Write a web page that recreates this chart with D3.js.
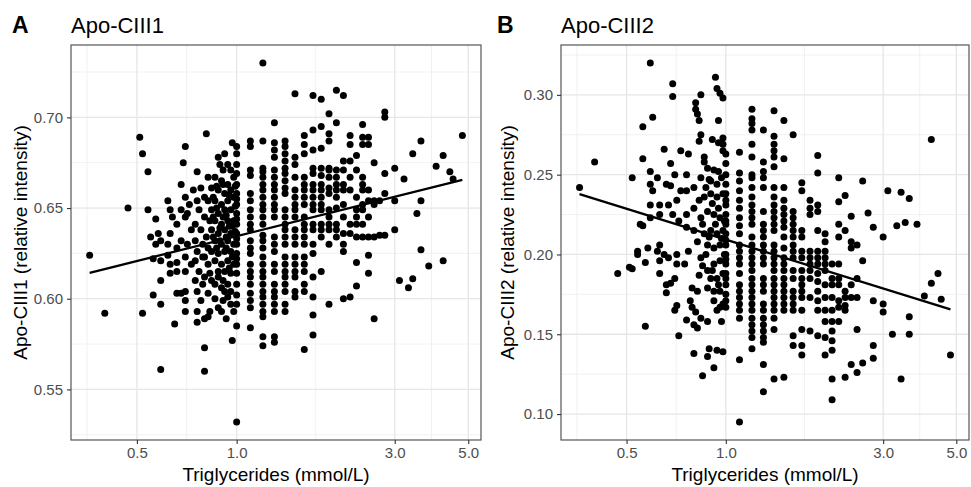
<!DOCTYPE html>
<html>
<head>
<meta charset="utf-8">
<script src="https://cdn.jsdelivr.net/npm/d3@7"></script>
<style>
  body { margin: 0; background: #fff; }
  svg { display: block; font-family: "Liberation Sans", Arial, sans-serif; }
</style>
</head>
<body>
<div id="chart"></div>
<script>
// x tick labels (triglycerides, log scale) shared by both panels
const xTicks = [0.5, 1.0, 3.0, 5.0];
const yTicksA = [0.55, 0.60, 0.65, 0.70];
const yTicksB = [0.10, 0.15, 0.20, 0.25, 0.30];

// fitted lines: y = intercept + slope * log10(TG)
const fitA = [0.6345, 0.0455];
const fitB = [0.2093, -0.0642];

// Apo-CIII1: triglyceride columns (1 decimal above 1.0) with their intensities
const colsA = [
  [1.0, [0.684, 0.680, 0.674, 0.669, 0.663, 0.658, 0.655, 0.652, 0.647, 0.644, 0.641, 0.636, 0.633, 0.630, 0.625, 0.622, 0.619, 0.614, 0.608, 0.602, 0.597, 0.585, 0.532]],
  [1.1, [0.687, 0.684, 0.671, 0.668, 0.658, 0.654, 0.649, 0.645, 0.641, 0.638, 0.632, 0.628, 0.625, 0.619, 0.615, 0.612, 0.608, 0.603, 0.599, 0.595, 0.584]],
  [1.2, [0.730, 0.687, 0.672, 0.670, 0.667, 0.663, 0.660, 0.656, 0.652, 0.649, 0.645, 0.641, 0.635, 0.632, 0.628, 0.623, 0.619, 0.615, 0.612, 0.608, 0.604, 0.601, 0.597, 0.593, 0.590, 0.579, 0.574]],
  [1.3, [0.697, 0.686, 0.682, 0.678, 0.671, 0.667, 0.663, 0.660, 0.656, 0.652, 0.649, 0.645, 0.634, 0.630, 0.626, 0.619, 0.615, 0.608, 0.604, 0.601, 0.597, 0.593, 0.579, 0.576]],
  [1.4, [0.687, 0.684, 0.680, 0.676, 0.672, 0.669, 0.665, 0.661, 0.658, 0.649, 0.645, 0.641, 0.638, 0.634, 0.630, 0.623, 0.619, 0.615, 0.612, 0.608, 0.604, 0.597, 0.593]],
  [1.5, [0.713, 0.678, 0.674, 0.667, 0.660, 0.656, 0.652, 0.649, 0.645, 0.638, 0.634, 0.630, 0.623, 0.619, 0.615, 0.612, 0.604, 0.601]],
  [1.6, [0.690, 0.685, 0.680, 0.667, 0.663, 0.660, 0.656, 0.652, 0.645, 0.641, 0.638, 0.634, 0.630, 0.623, 0.619, 0.615, 0.608, 0.604, 0.572]],
  [1.7, [0.712, 0.693, 0.682, 0.672, 0.669, 0.663, 0.660, 0.656, 0.652, 0.649, 0.641, 0.638, 0.630, 0.625, 0.612, 0.601, 0.591, 0.580]],
  [1.8, [0.710, 0.695, 0.683, 0.672, 0.668, 0.663, 0.660, 0.656, 0.652, 0.649, 0.641, 0.638, 0.634, 0.615]],
  [1.9, [0.702, 0.691, 0.687, 0.672, 0.671, 0.667, 0.661, 0.658, 0.649, 0.645, 0.641, 0.638, 0.630, 0.597]],
  [2.0, [0.715, 0.697, 0.671, 0.667, 0.663, 0.660, 0.656, 0.650, 0.641, 0.638, 0.634]],
  [2.1, [0.712, 0.676, 0.671, 0.663, 0.660, 0.652, 0.645, 0.636, 0.630, 0.626, 0.600]],
  [2.2, [0.690, 0.685, 0.676, 0.667, 0.660, 0.641, 0.636, 0.601]],
  [2.3, [0.679, 0.671, 0.656, 0.649, 0.645, 0.641, 0.634, 0.620, 0.607]],
  [2.4, [0.696, 0.689, 0.685, 0.667, 0.663, 0.660, 0.652, 0.649, 0.641, 0.634]],
  [2.5, [0.689, 0.685, 0.660, 0.654, 0.645, 0.634, 0.624, 0.614]],
  [2.6, [0.675, 0.654, 0.652, 0.634, 0.589]],
  [2.7, [0.654, 0.635]],
  [2.8, [0.703, 0.700, 0.669, 0.658, 0.635]],
  [3.0, [0.672, 0.654, 0.638]],
  [3.1, [0.610]], [3.2, [0.666]], [3.3, [0.606]], [3.4, [0.680, 0.611]], [3.5, [0.647]],
  [3.6, [0.687, 0.654, 0.627]], [3.8, [0.618]], [4.0, [0.673]], [4.2, [0.679, 0.621]],
  [4.4, [0.670]], [4.5, [0.666]], [4.8, [0.690]]
];

// Apo-CIII1: individual points below 1.0 mmol/L
const lowA = [
  [0.51, 0.689], [0.52, 0.680], [0.54, 0.670], [0.47, 0.650], [0.54, 0.649], [0.57, 0.644], [0.36, 0.624], [0.40, 0.592],
  [0.52, 0.592], [0.56, 0.602], [0.59, 0.597], [0.59, 0.610], [0.59, 0.561], [0.65, 0.586], [0.70, 0.684], [0.69, 0.675],
  [0.81, 0.691], [0.76, 0.670], [0.68, 0.663], [0.55, 0.634], [0.58, 0.636], [0.57, 0.630], [0.59, 0.632], [0.62, 0.630],
  [0.56, 0.622], [0.59, 0.621], [0.62, 0.624], [0.63, 0.619], [0.66, 0.615], [0.62, 0.654], [0.63, 0.649], [0.64, 0.645],
  [0.66, 0.641], [0.68, 0.649], [0.71, 0.647], [0.70, 0.645], [0.63, 0.636], [0.68, 0.632], [0.66, 0.628], [0.71, 0.630],
  [0.70, 0.623], [0.66, 0.620], [0.70, 0.615], [0.63, 0.614], [0.73, 0.619], [0.70, 0.604], [0.68, 0.603], [0.66, 0.603],
  [0.70, 0.599], [0.70, 0.593], [0.76, 0.593], [0.76, 0.587], [0.80, 0.589], [0.82, 0.590], [0.83, 0.593], [0.88, 0.595],
  [0.93, 0.589], [0.86, 0.600], [0.82, 0.603], [0.76, 0.604], [0.78, 0.599], [0.79, 0.608], [0.75, 0.610], [0.80, 0.612],
  [0.78, 0.661], [0.80, 0.656], [0.82, 0.667], [0.76, 0.654], [0.77, 0.649], [0.75, 0.641], [0.73, 0.638], [0.75, 0.632],
  [0.78, 0.638], [0.80, 0.645], [0.79, 0.630], [0.76, 0.626], [0.80, 0.623], [0.75, 0.621], [0.82, 0.619], [0.77, 0.615],
  [0.83, 0.614], [0.84, 0.610], [0.86, 0.608], [0.88, 0.612], [0.90, 0.606], [0.92, 0.604], [0.94, 0.608], [0.96, 0.604],
  [0.94, 0.601], [0.91, 0.599], [0.96, 0.597], [0.98, 0.593], [0.90, 0.593], [0.88, 0.678], [0.92, 0.680], [0.89, 0.674],
  [0.91, 0.671], [0.94, 0.674], [0.96, 0.671], [0.86, 0.667], [0.90, 0.665], [0.94, 0.663], [0.98, 0.667], [0.84, 0.661],
  [0.88, 0.660], [0.92, 0.658], [0.96, 0.660], [0.86, 0.654], [0.90, 0.652], [0.94, 0.654], [0.98, 0.656], [0.84, 0.649],
  [0.88, 0.647], [0.92, 0.649], [0.96, 0.649], [0.86, 0.643], [0.90, 0.641], [0.94, 0.643], [0.98, 0.643], [0.84, 0.638],
  [0.88, 0.636], [0.92, 0.638], [0.96, 0.636], [0.86, 0.632], [0.90, 0.630], [0.94, 0.632], [0.98, 0.630], [0.84, 0.626],
  [0.88, 0.625], [0.92, 0.626], [0.96, 0.626], [0.86, 0.621], [0.90, 0.619], [0.94, 0.621], [0.98, 0.619], [0.88, 0.615],
  [0.92, 0.615], [0.96, 0.614], [0.85, 0.634], [0.93, 0.628], [0.97, 0.640], [0.87, 0.650], [0.91, 0.645], [0.95, 0.640],
  [0.89, 0.632], [0.82, 0.654], [0.83, 0.643], [0.81, 0.634], [0.82, 0.628], [0.79, 0.623], [0.97, 0.686], [0.97, 0.577],
  [0.80, 0.573], [0.80, 0.560], [0.70, 0.656], [0.72, 0.652], [0.74, 0.660], [0.87, 0.662], [0.91, 0.663], [0.95, 0.657],
  [0.99, 0.651], [0.85, 0.645], [0.89, 0.639], [0.93, 0.634], [0.97, 0.623], [0.99, 0.637], [0.95, 0.617], [0.91, 0.610],
  [0.87, 0.628], [0.93, 0.646], [0.99, 0.662], [0.85, 0.656]
];

// Apo-CIII2: triglyceride columns above 1.0 mmol/L
const colsB = [
  [1.0, [0.263, 0.257, 0.250, 0.244, 0.238, 0.234, 0.231, 0.225, 0.221, 0.219, 0.213, 0.209, 0.206, 0.200, 0.197, 0.194, 0.188, 0.185, 0.181, 0.175, 0.171, 0.167]],
  [1.1, [0.264, 0.251, 0.246, 0.240, 0.234, 0.229, 0.223, 0.218, 0.213, 0.206, 0.202, 0.198, 0.194, 0.188, 0.181, 0.177, 0.173, 0.169, 0.165, 0.160, 0.134, 0.095]],
  [1.2, [0.291, 0.285, 0.282, 0.278, 0.269, 0.261, 0.250, 0.248, 0.242, 0.236, 0.231, 0.227, 0.223, 0.219, 0.211, 0.206, 0.202, 0.198, 0.194, 0.190, 0.185, 0.181, 0.177, 0.173, 0.169, 0.165, 0.160, 0.156, 0.152, 0.148, 0.141]],
  [1.3, [0.278, 0.258, 0.252, 0.248, 0.242, 0.227, 0.219, 0.215, 0.211, 0.206, 0.202, 0.198, 0.194, 0.185, 0.181, 0.177, 0.169, 0.165, 0.160, 0.156, 0.152, 0.148, 0.145, 0.131, 0.114]],
  [1.4, [0.290, 0.274, 0.269, 0.265, 0.261, 0.255, 0.242, 0.236, 0.231, 0.227, 0.223, 0.219, 0.215, 0.206, 0.202, 0.198, 0.194, 0.190, 0.185, 0.181, 0.177, 0.173, 0.169, 0.165, 0.160, 0.153, 0.122]],
  [1.5, [0.284, 0.260, 0.242, 0.234, 0.229, 0.225, 0.221, 0.217, 0.211, 0.204, 0.198, 0.194, 0.190, 0.185, 0.181, 0.177, 0.173, 0.169, 0.165, 0.123]],
  [1.6, [0.275, 0.227, 0.223, 0.219, 0.215, 0.211, 0.206, 0.202, 0.198, 0.190, 0.185, 0.177, 0.173, 0.169, 0.165, 0.149, 0.143]],
  [1.7, [0.245, 0.240, 0.215, 0.211, 0.202, 0.198, 0.190, 0.185, 0.181, 0.177, 0.173, 0.165, 0.153, 0.143, 0.137]],
  [1.8, [0.234, 0.229, 0.225, 0.202, 0.198, 0.194, 0.190, 0.185, 0.173, 0.152]],
  [1.9, [0.262, 0.251, 0.231, 0.227, 0.215, 0.202, 0.198, 0.194, 0.188, 0.183, 0.177, 0.171, 0.165, 0.149]],
  [2.0, [0.213, 0.208, 0.202, 0.198, 0.194, 0.190, 0.181, 0.173, 0.165, 0.158, 0.148, 0.137]],
  [2.1, [0.194, 0.185, 0.181, 0.173, 0.165, 0.158, 0.152, 0.146, 0.140, 0.122, 0.109]],
  [2.2, [0.248, 0.233, 0.219, 0.211, 0.194, 0.185, 0.181, 0.171, 0.167, 0.158]],
  [2.3, [0.237, 0.215, 0.177, 0.173, 0.168, 0.165, 0.123]],
  [2.4, [0.224, 0.208, 0.204, 0.181, 0.173, 0.131]],
  [2.5, [0.206, 0.185, 0.173, 0.153, 0.126]],
  [2.6, [0.246, 0.196, 0.132]],
  [2.7, [0.226]],
  [2.8, [0.217, 0.171, 0.143, 0.135]],
  [3.0, [0.211, 0.169, 0.164]],
  [3.1, [0.240]], [3.2, [0.150]], [3.3, [0.218]], [3.4, [0.239, 0.122]], [3.5, [0.220]],
  [3.6, [0.235, 0.161, 0.150]], [3.8, [0.219]], [4.0, [0.174]], [4.2, [0.272, 0.182]],
  [4.4, [0.188]], [4.5, [0.172]], [4.8, [0.137]]
];

// Apo-CIII2: individual points below 1.0 mmol/L
const lowB = [
  [0.59, 0.320], [0.93, 0.311], [0.94, 0.304], [0.96, 0.301], [0.98, 0.298], [0.69, 0.307], [0.69, 0.299], [0.84, 0.300],
  [0.81, 0.295], [0.81, 0.291], [0.82, 0.288], [0.83, 0.284], [0.95, 0.284], [0.60, 0.286], [0.56, 0.280], [0.40, 0.258],
  [0.36, 0.242], [0.52, 0.248], [0.56, 0.260], [0.47, 0.188], [0.51, 0.192], [0.52, 0.191], [0.57, 0.155], [0.72, 0.149],
  [0.80, 0.138], [0.89, 0.141], [0.88, 0.136], [0.94, 0.140], [0.98, 0.139], [0.92, 0.129], [0.85, 0.124], [0.65, 0.266],
  [0.73, 0.265], [0.77, 0.263], [0.68, 0.257], [0.70, 0.250], [0.59, 0.252], [0.62, 0.248], [0.66, 0.244], [0.59, 0.244],
  [0.60, 0.240], [0.68, 0.243], [0.76, 0.250], [0.86, 0.258], [0.88, 0.254], [0.92, 0.253], [0.84, 0.248], [0.90, 0.246],
  [0.94, 0.244], [0.97, 0.248], [0.80, 0.242], [0.76, 0.240], [0.73, 0.240], [0.71, 0.234], [0.67, 0.231], [0.63, 0.231],
  [0.59, 0.231], [0.63, 0.225], [0.59, 0.223], [0.55, 0.219], [0.56, 0.218], [0.69, 0.225], [0.72, 0.221], [0.76, 0.225],
  [0.80, 0.229], [0.83, 0.234], [0.86, 0.236], [0.90, 0.238], [0.94, 0.236], [0.98, 0.238], [0.84, 0.223], [0.88, 0.227],
  [0.92, 0.225], [0.96, 0.223], [0.76, 0.217], [0.80, 0.215], [0.82, 0.208], [0.86, 0.213], [0.90, 0.215], [0.94, 0.213],
  [0.98, 0.215], [0.88, 0.206], [0.92, 0.204], [0.96, 0.206], [0.63, 0.206], [0.62, 0.202], [0.65, 0.200], [0.67, 0.198],
  [0.71, 0.200], [0.75, 0.194], [0.71, 0.194], [0.63, 0.196], [0.58, 0.204], [0.54, 0.202], [0.54, 0.200], [0.57, 0.195],
  [0.77, 0.202], [0.84, 0.198], [0.85, 0.193], [0.88, 0.190], [0.92, 0.194], [0.96, 0.196], [0.90, 0.185], [0.94, 0.185],
  [0.98, 0.188], [0.88, 0.179], [0.92, 0.177], [0.96, 0.177], [0.82, 0.177], [0.79, 0.179], [0.70, 0.185], [0.68, 0.182],
  [0.66, 0.181], [0.66, 0.176], [0.78, 0.171], [0.79, 0.167], [0.71, 0.168], [0.70, 0.165], [0.92, 0.171], [0.96, 0.167],
  [0.98, 0.169], [0.81, 0.164], [0.84, 0.160], [0.76, 0.159], [0.80, 0.156], [0.82, 0.154], [0.88, 0.158], [0.97, 0.158],
  [0.94, 0.165], [0.63, 0.188], [0.84, 0.275], [0.83, 0.271], [0.91, 0.272], [0.95, 0.270], [0.98, 0.273], [0.98, 0.269],
  [0.98, 0.265], [0.86, 0.261], [0.87, 0.242], [0.91, 0.232], [0.95, 0.229], [0.99, 0.221], [0.85, 0.219], [0.89, 0.211],
  [0.93, 0.219], [0.97, 0.210], [0.99, 0.200], [0.87, 0.200], [0.91, 0.190], [0.95, 0.181], [0.83, 0.187], [0.89, 0.247],
  [0.95, 0.252]
];

const W = 971, H = 487;
const svg = d3.select("#chart").append("svg")
  .attr("width", W)
  .attr("height", H);

function flatten(cols, low) {
  const pts = low.map(d => ({ tg: d[0], v: d[1] }));
  cols.forEach(c => c[1].forEach(v => pts.push({ tg: c[0], v: v })));
  return pts;
}

function expand(ext, f) {
  const pad = (ext[1] - ext[0]) * f;
  return [ext[0] - pad, ext[1] + pad];
}

function minorBreaks(major, lo, hi) {
  const out = [];
  for (let i = 0; i < major.length - 1; i++) out.push((major[i] + major[i + 1]) / 2);
  out.push(major[0] - (major[1] - major[0]) / 2);
  const n = major.length;
  out.push(major[n - 1] + (major[n - 1] - major[n - 2]) / 2);
  return out.filter(d => d > lo && d < hi);
}

function drawPanel(p) {
  const data = flatten(p.cols, p.low);
  const g = svg.append("g");

  const lx = expand(d3.extent(data, d => Math.log10(d.tg)), 0.05);
  const ly = expand(d3.extent(data, d => d.v), 0.05);

  const x = d3.scaleLog().domain([10 ** lx[0], 10 ** lx[1]]).range([p.left, p.right]);
  const y = d3.scaleLinear().domain(ly).range([p.bottom, p.top]);

  // grid
  const xMinor = minorBreaks(xTicks.map(Math.log10), lx[0], lx[1]).map(d => 10 ** d);
  const yMinor = minorBreaks(p.yTicks, ly[0], ly[1]);

  g.selectAll(".gxm").data(xMinor).join("line")
    .attr("x1", d => x(d)).attr("x2", d => x(d))
    .attr("y1", p.top).attr("y2", p.bottom)
    .attr("stroke", "#EDEDED").attr("stroke-width", 0.8);
  g.selectAll(".gym").data(yMinor).join("line")
    .attr("x1", p.left).attr("x2", p.right)
    .attr("y1", d => y(d)).attr("y2", d => y(d))
    .attr("stroke", "#EDEDED").attr("stroke-width", 0.8);
  g.selectAll(".gx").data(xTicks).join("line")
    .attr("x1", d => x(d)).attr("x2", d => x(d))
    .attr("y1", p.top).attr("y2", p.bottom)
    .attr("stroke", "#E6E6E6").attr("stroke-width", 1.3);
  g.selectAll(".gy").data(p.yTicks).join("line")
    .attr("x1", p.left).attr("x2", p.right)
    .attr("y1", d => y(d)).attr("y2", d => y(d))
    .attr("stroke", "#E6E6E6").attr("stroke-width", 1.3);

  // points
  g.append("g").selectAll("circle").data(data).join("circle")
    .attr("cx", d => x(d.tg))
    .attr("cy", d => y(d.v))
    .attr("r", 3.5)
    .attr("fill", "#000");

  // regression line over the data range
  const tgExt = d3.extent(data, d => d.tg);
  g.append("line")
    .attr("x1", x(tgExt[0])).attr("y1", y(p.fit[0] + p.fit[1] * Math.log10(tgExt[0])))
    .attr("x2", x(tgExt[1])).attr("y2", y(p.fit[0] + p.fit[1] * Math.log10(tgExt[1])))
    .attr("stroke", "#000")
    .attr("stroke-width", 2.3);

  // panel border
  g.append("rect")
    .attr("x", p.left).attr("y", p.top)
    .attr("width", p.right - p.left).attr("height", p.bottom - p.top)
    .attr("fill", "none")
    .attr("stroke", "#555")
    .attr("stroke-width", 1.2);

  // axes
  const ax = g.append("g")
    .attr("transform", `translate(0,${p.bottom})`)
    .call(d3.axisBottom(x).tickValues(xTicks).tickFormat(d3.format(".1f")).tickSize(4).tickPadding(3));
  const ay = g.append("g")
    .attr("transform", `translate(${p.left},0)`)
    .call(d3.axisLeft(y).tickValues(p.yTicks).tickFormat(d3.format(".2f")).tickSize(4).tickPadding(4));
  [ax, ay].forEach(a => {
    a.select(".domain").remove();
    a.selectAll(".tick line").attr("stroke", "#333").attr("stroke-width", 1.1);
    a.selectAll(".tick text")
      .attr("fill", "#4D4D4D")
      .style("font-size", "15px")
      .style("font-family", "'Liberation Sans', Arial, sans-serif");
  });

  // axis titles
  g.append("text")
    .attr("x", (p.left + p.right) / 2)
    .attr("y", 481)
    .attr("text-anchor", "middle")
    .style("font-size", "19px")
    .text("Triglycerides (mmol/L)");

  g.append("text")
    .attr("transform", `translate(${p.ytitleX},${(p.top + p.bottom) / 2}) rotate(-90)`)
    .attr("text-anchor", "middle")
    .style("font-size", "19px")
    .text(p.ytitle);

  // tag and title
  g.append("text")
    .attr("x", p.tagX).attr("y", 33)
    .style("font-size", "23px")
    .style("font-weight", "bold")
    .text(p.tag);
  g.append("text")
    .attr("x", p.left).attr("y", 33)
    .style("font-size", "22px")
    .text(p.title);
}

drawPanel({
  tag: "A", title: "Apo-CIII1", ytitle: "Apo-CIII1 (relative intensity)",
  cols: colsA, low: lowA, fit: fitA, yTicks: yTicksA,
  left: 71, right: 481, top: 45, bottom: 440, tagX: 12, ytitleX: 27
});

drawPanel({
  tag: "B", title: "Apo-CIII2", ytitle: "Apo-CIII2 (relative intensity)",
  cols: colsB, low: lowB, fit: fitB, yTicks: yTicksB,
  left: 561, right: 969, top: 45, bottom: 440, tagX: 497, ytitleX: 514
});
</script>
</body>
</html>
